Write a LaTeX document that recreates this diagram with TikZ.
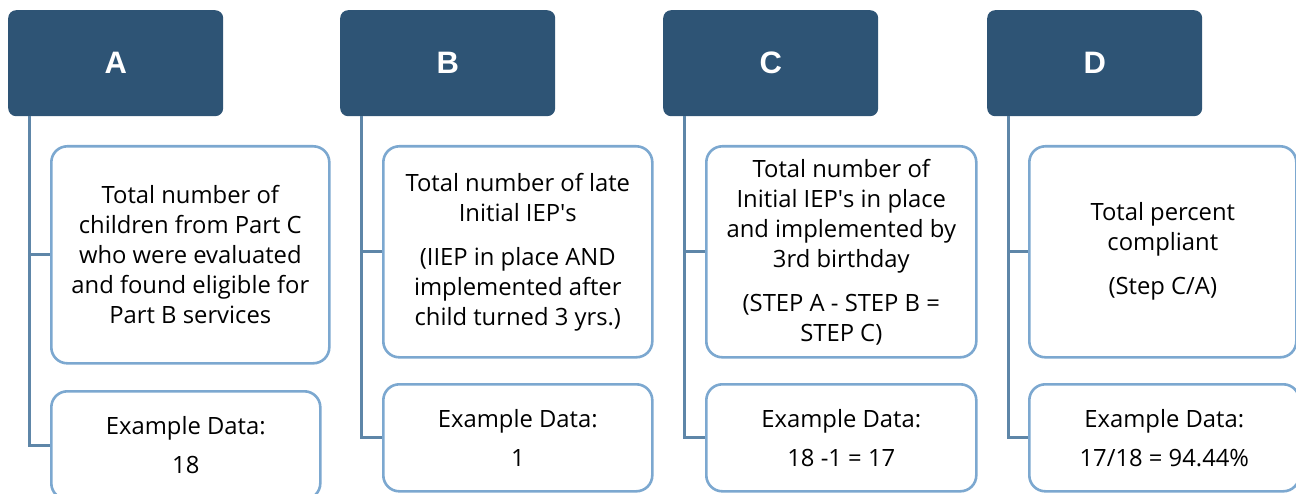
\documentclass[tikz,border=0pt]{standalone}
\usepackage{fontspec}
\setmainfont{Open Sans}
\newfontfamily\headfont{Liberation Sans}
\usetikzlibrary{positioning}
\definecolor{hdblue}{HTML}{2E5475}
\definecolor{boxblue}{HTML}{7CA8D0}
\definecolor{linkblue}{HTML}{5E86A8}

\begin{document}
\begin{tikzpicture}[x=1pt, y=-1pt,
    header/.style = {anchor=north west, fill=hdblue, rounded corners=8pt, minimum width=215pt, minimum height=106pt, text=white, font=\headfont\bfseries\fontsize{31}{36}\selectfont},
    infobox/.style = {anchor=north west, draw=boxblue, line width=2.6pt, rounded corners=16pt, fill=white, align=center, inner sep=0pt, font=\fontsize{23.8}{30}\selectfont},
    link/.style = {draw=linkblue, line width=3pt}]

    \useasboundingbox (0,0) rectangle (1296,494);

    % headers
    \node[header] (hA) at (8,10)   {A};
    \node[header] (hB) at (340,10) {B};
    \node[header] (hC) at (663,10) {C};
    \node[header] (hD) at (987,10) {D};

    % description boxes
    \node[infobox, minimum width=278pt, minimum height=217pt] (dA) at (50,145)
        {Total number of\\children from Part C\\who were evaluated\\and found eligible for\\Part B services};
    \node[infobox, minimum width=269pt, minimum height=211pt] (dB) at (382,145)
        {Total number of late\\Initial IEP\textquotesingle s\\[14pt](IIEP in place AND\\implemented after\\child turned 3 yrs.)};
    \node[infobox, minimum width=270pt, minimum height=211pt] (dC) at (705,145)
        {Total number of\\Initial IEP\textquotesingle s in place\\and implemented by\\3rd birthday\\[14pt](STEP A - STEP B =\\STEP C)};
    \node[infobox, minimum width=267pt, minimum height=211pt] (dD) at (1028,145)
        {Total percent\\compliant\\[14pt](Step C/A)};

    % example data
    \node[infobox, minimum width=269pt, minimum height=108pt] (xA) at (50,390)
        {Example Data:\\[9pt]18};
    \node[infobox, minimum width=269pt, minimum height=107pt] (xB) at (382,383)
        {Example Data:\\[9pt]1};
    \node[infobox, minimum width=270pt, minimum height=107pt] (xC) at (705,383)
        {Example Data:\\[9pt]18 -1 = 17};
    \node[infobox, minimum width=270pt, minimum height=107pt] (xD) at (1028,383)
        {Example Data:\\[9pt]17/18 = 94.44\%};

    % connectors
    \draw[link] ([xshift=21pt]hA.south west) |- (xA.west);
    \draw[link] ([xshift=21pt]hA.south west) |- (dA.west);
    \draw[link] ([xshift=21pt]hB.south west) |- (xB.west);
    \draw[link] ([xshift=21pt]hB.south west) |- (dB.west);
    \draw[link] ([xshift=21pt]hC.south west) |- (xC.west);
    \draw[link] ([xshift=21pt]hC.south west) |- (dC.west);
    \draw[link] ([xshift=21pt]hD.south west) |- (xD.west);
    \draw[link] ([xshift=21pt]hD.south west) |- (dD.west);

\end{tikzpicture}
\end{document}
